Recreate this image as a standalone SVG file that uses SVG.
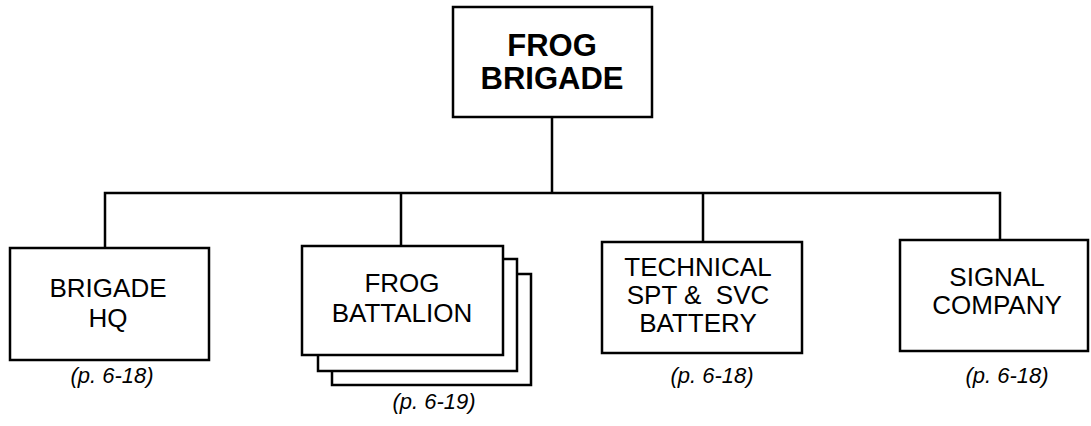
<svg xmlns="http://www.w3.org/2000/svg" width="1091" height="426" viewBox="0 0 1091 426">
<style>
.box{fill:#fff;stroke:#000;stroke-width:2.5}
.t{font-family:"Liberation Sans",Arial,sans-serif;font-size:26px;text-anchor:middle;fill:#000}
.tb{font-family:"Liberation Sans",Arial,sans-serif;font-size:31px;font-weight:bold;text-anchor:middle;fill:#000}
.lab{font-family:"Liberation Sans",Arial,sans-serif;font-size:22px;font-style:italic;text-anchor:middle;fill:#000}
.c{fill:none;stroke:#000;stroke-width:2.5}
</style>
<rect width="1091" height="426" fill="#fff"/>
<g id="connectors">
<path class="c" d="M552 117 V193 M105 248 V193 H1000 V240 M401 193 V246 M703 193 V242"/>
</g>
<g id="frog-brigade">
<rect class="box" x="453" y="7" width="199" height="110"/>
<text class="tb" x="552" y="56">FROG</text>
<text class="tb" x="552" y="89">BRIGADE</text>
</g>
<g id="brigade-hq">
<rect class="box" x="10" y="248" width="199" height="112"/>
<text class="t" x="108" y="297">BRIGADE</text>
<text class="t" x="108" y="327">HQ</text>
<text class="lab" x="112" y="383">(p. 6-18)</text>
</g>
<g id="frog-battalion">
<rect class="box" x="332" y="274" width="199" height="111"/>
<rect class="box" x="318" y="259" width="199" height="112"/>
<rect class="box" x="302" y="246" width="201" height="109"/>
<text class="t" x="402" y="292">FROG</text>
<text class="t" x="402" y="322">BATTALION</text>
<text class="lab" x="434" y="409">(p. 6-19)</text>
</g>
<g id="technical">
<rect class="box" x="602" y="242" width="200" height="111"/>
<text class="t" x="698" y="276">TECHNICAL</text>
<text class="t" x="698" y="304">SPT &amp;&#160; SVC</text>
<text class="t" x="698" y="332">BATTERY</text>
<text class="lab" x="712" y="383">(p. 6-18)</text>
</g>
<g id="signal">
<rect class="box" x="900" y="240" width="188" height="111"/>
<text class="t" x="997" y="286">SIGNAL</text>
<text class="t" x="997" y="314">COMPANY</text>
<text class="lab" x="1007" y="383">(p. 6-18)</text>
</g>
</svg>
